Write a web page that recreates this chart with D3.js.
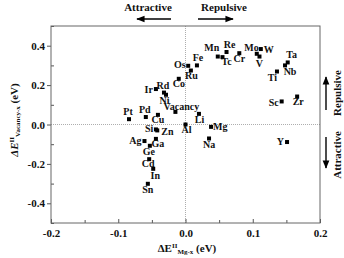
<!DOCTYPE html>
<html>
<head>
<meta charset="utf-8">
<script src="https://cdn.jsdelivr.net/npm/d3@7"></script>
<style>
body { margin: 0; background: #fff; }
text { font-family: "Liberation Serif", "Times New Roman", serif; font-weight: bold; fill: #111; }
</style>
</head>
<body>
<svg width="344" height="258"></svg>
<script>
// element names and the two interaction energies (eV)
const elements = ["Pt", "Pd", "Cu", "Ir", "Rd", "Ni", "Co", "Os", "Ru", "Fe", "Vacancy", "Li", "Al",
    "Si", "Zn", "Ag", "Ga", "Ge", "Cd", "In", "Sn", "Mg", "Na", "Y",
    "Mn", "Re", "Tc", "Cr", "Mo", "W", "V", "Ta", "Nb", "Ti", "Sc", "Zr"];
const eMgX = [-0.084, -0.059, -0.041, -0.044, -0.032, -0.029, -0.010, 0.004, 0.008, 0.017, -0.015, 0.020, 0.000,
    -0.044, -0.042, -0.061, -0.044, -0.053, -0.054, -0.048, -0.056, 0.038, 0.035, 0.151,
    0.048, 0.061, 0.055, 0.080, 0.106, 0.112, 0.110, 0.152, 0.148, 0.136, 0.143, 0.166];
const eVacX = [0.027, 0.038, 0.049, 0.180, 0.162, 0.151, 0.232, 0.298, 0.274, 0.300, 0.064, 0.054, 0.000,
    -0.025, -0.030, -0.084, -0.073, -0.108, -0.176, -0.225, -0.301, -0.012, -0.071, -0.089,
    0.345, 0.368, 0.342, 0.362, 0.359, 0.383, 0.345, 0.315, 0.300, 0.269, 0.117, 0.142];

const xTicks = [-0.2, -0.1, 0.0, 0.1, 0.2];
const xTickLabels = ["-0.2", "-0.1", "0.0", "0.1", "0.2"];
const yTicks = [-0.4, -0.2, 0.0, 0.2, 0.4];
const yTickLabels = ["-0.4", "-0.2", "0.0", "0.2", "0.4"];

// label placement: [anchor, dx, dy]
const labelPos = {
    Pt: ["middle", -1, -4], Pd: ["middle", -1, -4], Cu: ["middle", 0, 8.5], Ir: ["end", -3, 3.5],
    Rd: ["middle", -1, -3.5], Ni: ["middle", -1.5, 9], Co: ["middle", 0, 8], Os: ["end", -2.5, 2.5],
    Ru: ["middle", 0.5, 8.5], Fe: ["middle", 1, -4], Vacancy: ["start", -12, -1.5], Li: ["middle", 0.5, 9],
    Al: ["middle", 1, 8.5], Si: ["end", -2.5, 3], Zn: ["start", 4, 4.5], Ag: ["end", -3, 3],
    Ga: ["middle", 2, 8], Ge: ["middle", -1, 9.5], Cd: ["middle", -1, 8], In: ["middle", 2, 10],
    Sn: ["middle", 0, 9], Mg: ["start", 2, 3.5], Na: ["middle", 0, 9.5], Y: ["end", -3, 3],
    Mn: ["middle", -6, -6], Re: ["middle", 3, -4.5], Tc: ["start", -1, 8], Cr: ["middle", 0, 8.5],
    Mo: ["end", 2, -2.5], W: ["start", 3, 3.5], V: ["middle", 0, 10.5], Ta: ["middle", 4, -4.5],
    Nb: ["middle", 5, 10], Ti: ["end", 0, 9], Sc: ["end", -3, 5], Zr: ["start", -4.5, 8.5]
};

const svg = d3.select("svg");
const margin = { top: 26, right: 24, bottom: 35, left: 51 };
const width = 344 - margin.left - margin.right;
const height = 258 - margin.top - margin.bottom;
const g = svg.append("g").attr("transform", `translate(${margin.left}, ${margin.top})`);

const x = d3.scaleLinear().domain([-0.2, 0.2]).range([0, width]);
const y = d3.scaleLinear().domain([-0.5, 0.5]).range([height, 0]);

// zero guide lines
g.append("line").attr("x1", 0).attr("x2", width).attr("y1", y(0)).attr("y2", y(0))
    .attr("stroke", "#999").attr("stroke-width", 0.8).attr("stroke-dasharray", "1,1");
g.append("line").attr("x1", x(0)).attr("x2", x(0)).attr("y1", 0).attr("y2", height)
    .attr("stroke", "#999").attr("stroke-width", 0.8).attr("stroke-dasharray", "1,1");

// axes
g.append("g").attr("transform", `translate(0, ${height})`)
    .call(d3.axisBottom(x).tickValues(xTicks).tickSize(-4).tickPadding(6)
        .tickFormat((d, i) => xTickLabels[i]));
g.append("g").attr("transform", `translate(0, ${height})`)
    .call(d3.axisBottom(x).tickValues([-0.15, -0.05, 0.05, 0.15]).tickSize(-3).tickFormat(""));
g.append("g")
    .call(d3.axisLeft(y).tickValues(yTicks).tickSize(4).tickPadding(2)
        .tickFormat((d, i) => yTickLabels[i]));
g.append("g")
    .call(d3.axisLeft(y).tickValues([-0.5, -0.3, -0.1, 0.1, 0.3, 0.5]).tickSize(-3).tickFormat(""));

g.selectAll(".domain").remove();
g.selectAll(".tick line").attr("stroke", "#555");
g.selectAll(".tick text").style("font-size", "11px").style("font-family", null);

g.append("rect").attr("width", width).attr("height", height)
    .attr("fill", "none").attr("stroke", "#666").attr("stroke-width", 1);

// points
const pts = elements.map((name, i) => ({ name, vx: eMgX[i], vy: eVacX[i] }));
g.selectAll(".pt").data(pts).enter().append("rect")
    .attr("class", "pt")
    .attr("x", d => x(d.vx) - 2)
    .attr("y", d => y(d.vy) - 2)
    .attr("width", 4).attr("height", 4)
    .attr("fill", "#000");

g.selectAll(".lbl").data(pts).enter().append("text")
    .attr("class", "lbl")
    .attr("x", d => x(d.vx) + labelPos[d.name][1])
    .attr("y", d => y(d.vy) + labelPos[d.name][2])
    .attr("text-anchor", d => labelPos[d.name][0])
    .style("font-size", "10px")
    .text(d => d.name);

// arrows
const defs = svg.append("defs");
defs.append("marker").attr("id", "head")
    .attr("viewBox", "0 0 10 10").attr("refX", 9).attr("refY", 5)
    .attr("markerWidth", 6).attr("markerHeight", 6).attr("orient", "auto")
    .append("path").attr("d", "M0,1 L10,5 L0,9 Z").attr("fill", "#000");

function arrow(x1, y1, x2, y2) {
    svg.append("line").attr("x1", x1).attr("y1", y1).attr("x2", x2).attr("y2", y2)
        .attr("stroke", "#000").attr("stroke-width", 1.4).attr("marker-end", "url(#head)");
}

svg.append("text").attr("x", 148).attr("y", 11).attr("text-anchor", "middle")
    .style("font-size", "11px").text("Attractive");
svg.append("text").attr("x", 224).attr("y", 11).attr("text-anchor", "middle")
    .style("font-size", "11px").text("Repulsive");
arrow(171, 19, 137, 19);
arrow(198, 19, 233, 19);

svg.append("text").attr("transform", "translate(341, 93) rotate(-90)").attr("text-anchor", "middle")
    .style("font-size", "11px").text("Repulsive");
svg.append("text").attr("transform", "translate(341, 155) rotate(-90)").attr("text-anchor", "middle")
    .style("font-size", "11px").text("Attractive");
arrow(326, 110, 326, 77);
arrow(326, 137, 326, 168);

// axis titles
const xt = svg.append("text").attr("x", 187).attr("y", 252).attr("text-anchor", "middle")
    .style("font-size", "11px");
xt.append("tspan").text("ΔE");
xt.append("tspan").attr("dy", -4).style("font-size", "7px").text("II");
xt.append("tspan").attr("dy", 6).style("font-size", "7px").text("Mg-x");
xt.append("tspan").attr("dy", -2).text(" (eV)");

const yt = svg.append("text").attr("transform", "translate(18, 120) rotate(-90)")
    .attr("text-anchor", "middle").style("font-size", "11px");
yt.append("tspan").style("font-style", "italic").text("ΔE");
yt.append("tspan").attr("dy", -4).style("font-size", "7px").text("II");
yt.append("tspan").attr("dy", 6).style("font-size", "7px").text("Vacancy-x");
yt.append("tspan").attr("dy", -2).text(" (eV)");
</script>
</body>
</html>
